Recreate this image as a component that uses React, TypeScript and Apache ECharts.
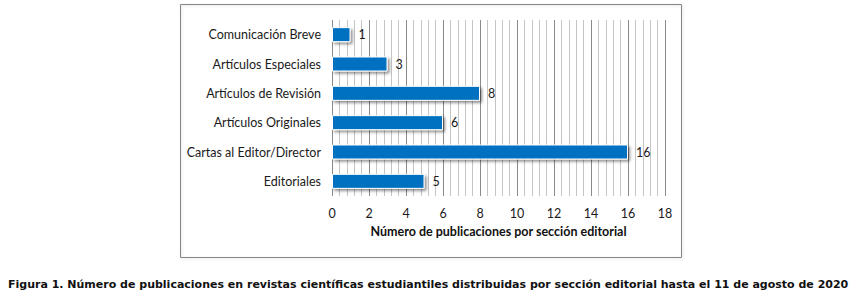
import React, { useEffect, useRef } from "react";
import * as echarts from "echarts";

const categories = [
  "Editoriales",
  "Cartas al Editor/Director",
  "Artículos Originales",
  "Artículos de Revisión",
  "Artículos Especiales",
  "Comunicación Breve",
];
const values = [5, 16, 6, 8, 3, 1];
const axisName = "Número de publicaciones por sección editorial";
const caption =
  "Figura 1. Número de publicaciones en revistas científicas estudiantiles distribuidas por sección editorial hasta el 11 de agosto de 2020";

export default function App() {
  const ref = useRef<HTMLDivElement>(null);
  useEffect(() => {
    const chart = echarts.init(ref.current!, null, { renderer: "svg" });
    const font = "Lato";
    chart.setOption({
      animation: false,
      backgroundColor: "#ffffff",
      grid: { left: 332, right: 196, top: 20, bottom: 109 },
      graphic: [
        {
          type: "rect",
          shape: { x: 180.5, y: 4.5, width: 501, height: 253 },
          style: {
            fill: "none",
            stroke: "#868686",
            lineWidth: 1,
            shadowColor: "rgba(0,0,0,0.15)",
            shadowBlur: 3,
            shadowOffsetX: 1,
            shadowOffsetY: 1,
          },
          z: -1,
        },
        {
          type: "text",
          left: 8,
          top: 279,
          style: {
            text: caption,
            font: "bold 11px 'DejaVu Sans'",
            fill: "#111",
          },
        },
      ],
      xAxis: {
        type: "value",
        min: 0,
        max: 18,
        interval: 2,
        name: axisName,
        nameLocation: "middle",
        nameGap: 29,
        nameTextStyle: {
          fontFamily: font,
          fontWeight: "bold",
          fontSize: 12.5,
          color: "#111",
        },
        axisLine: { show: false },
        axisTick: { show: false },
        axisLabel: { fontFamily: font, fontSize: 12.5, color: "#1a1a1a", margin: 11 },
        splitLine: { show: true, lineStyle: { color: "#8a8a8a", width: 1 } },
        minorTick: { show: false, splitNumber: 5 },
        minorSplitLine: { show: true, lineStyle: { color: "#c4c4c4", width: 1 } },
      },
      yAxis: {
        type: "category",
        data: categories,
        axisLine: { show: false },
        axisTick: { show: false },
        axisLabel: { fontFamily: font, fontSize: 12.5, color: "#1a1a1a", margin: 11 },
        splitLine: { show: false },
      },
      series: [
        {
          type: "bar",
          data: values,
          barWidth: 15,
          itemStyle: {
            color: "#0070C0",
            borderColor: "#ffffff",
            borderWidth: 1,
            shadowColor: "rgba(0,0,0,0.45)",
            shadowBlur: 3,
            shadowOffsetX: 2,
            shadowOffsetY: 2,
          },
          label: {
            show: true,
            position: "right",
            distance: 8,
            fontFamily: font,
            fontSize: 12.5,
            color: "#1a1a1a",
          },
        },
      ],
    });
    return () => chart.dispose();
  }, []);
  return (
    <div
      ref={ref}
      style={{ position: "fixed", left: 0, top: 0, width: 861, height: 305 }}
    />
  );
}
